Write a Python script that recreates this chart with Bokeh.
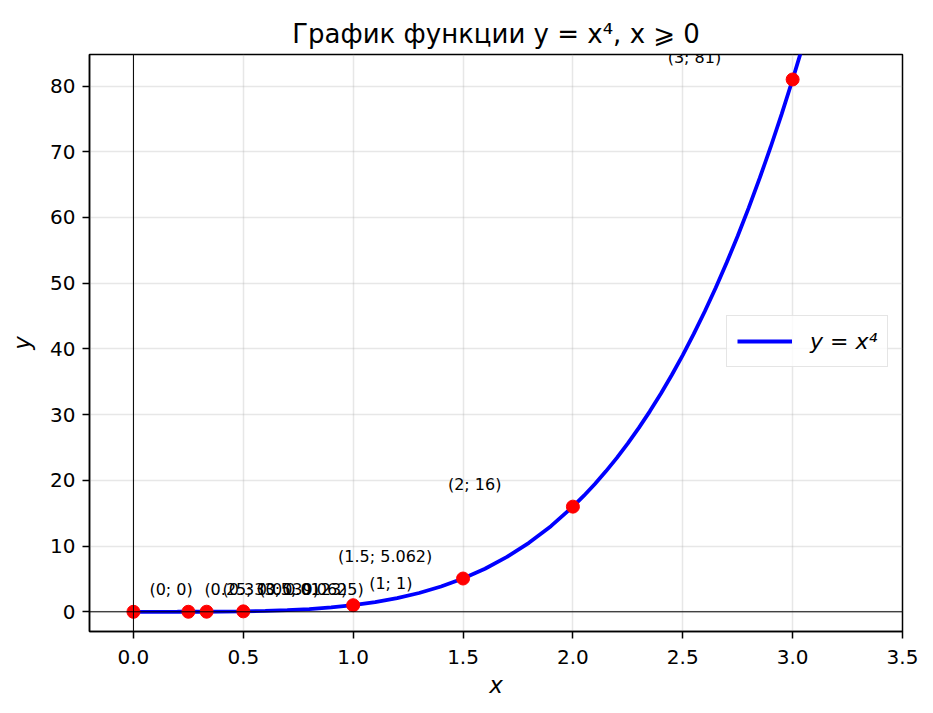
from bokeh.plotting import figure
from bokeh.models import (ColumnDataSource, FixedTicker, NumeralTickFormatter, Span,
                          Range1d, Legend, LegendItem)
from bokeh.core.properties import value
from bokeh.embed import file_html
from bokeh.resources import INLINE

# ---- data ----
curve_x = [0.0, 0.1, 0.2, 0.3, 0.4, 0.5, 0.6, 0.7, 0.8, 0.9, 1.0, 1.1, 1.2, 1.3, 1.4,
           1.5, 1.6, 1.7, 1.8, 1.9, 2.0, 2.05, 2.1, 2.15, 2.2, 2.25, 2.3, 2.35, 2.4,
           2.45, 2.5, 2.55, 2.6, 2.65, 2.7, 2.75, 2.8, 2.85, 2.9, 2.95, 3.0, 3.05, 3.1]
curve_y = [0.0, 0.0001, 0.0016, 0.0081, 0.0256, 0.0625, 0.1296, 0.2401, 0.4096, 0.6561,
           1.0, 1.4641, 2.0736, 2.8561, 3.8416, 5.0625, 6.5536, 8.3521, 10.4976, 13.0321,
           16.0, 17.6610, 19.4481, 21.3675, 23.4256, 25.6289, 27.9841, 30.4980, 33.1776,
           36.0300, 39.0625, 42.2825, 45.6976, 49.3155, 53.1441, 57.1914, 61.4656,
           65.9750, 70.7281, 75.7335, 81.0, 86.5365, 92.3521]
point_x = [0, 0.25, 0.333, 0.5, 1, 1.5, 2, 3]
point_y = [0, 0.0039, 0.0123, 0.0625, 1, 5.062, 16, 81]
point_labels = ["(0; 0)", "(0.25; 0.0039)", "(0.333; 0.0123)", "(0.5; 0.0625)",
                "(1; 1)", "(1.5; 5.062)", "(2; 16)", "(3; 81)"]
x_ticks = [0.0, 0.5, 1.0, 1.5, 2.0, 2.5, 3.0, 3.5]
y_ticks = [0, 10, 20, 30, 40, 50, 60, 70, 80]

FONT = "DejaVu Sans"

p = figure(width=925, height=705, output_backend="svg", toolbar_location=None,
           x_range=Range1d(-0.2, 3.5), y_range=Range1d(-3.0, 84.8),
           min_border_left=89, min_border_right=23, min_border_top=54,
           min_border_bottom=74)

p.title.text = "График функции y = x⁴, x ⩾ 0"
p.title.align = "center"
p.title.text_font = FONT
p.title.text_font_size = "26px"
p.title.text_font_style = "normal"
p.title.text_color = "black"
p.title.standoff = 11

# grid
for g in (p.xgrid, p.ygrid):
    g.grid_line_color = "#b0b0b0"
    g.grid_line_alpha = 0.3
    g.grid_line_width = 1.5

# axes
p.xaxis.ticker = FixedTicker(ticks=x_ticks)
p.yaxis.ticker = FixedTicker(ticks=y_ticks)
p.xaxis.formatter = NumeralTickFormatter(format="0.0")
p.yaxis.formatter = NumeralTickFormatter(format="0")
for ax in (p.xaxis[0], p.yaxis[0]):
    ax.major_label_text_font = FONT
    ax.major_label_text_font_size = "20px"
    ax.major_label_text_color = "black"
    ax.major_tick_in = 0
    ax.major_tick_out = 7
    ax.major_tick_line_color = "black"
    ax.major_tick_line_width = 1.5
    ax.minor_tick_line_color = None
    ax.axis_line_color = "black"
    ax.axis_line_width = 1.5
    ax.axis_label_text_font = FONT
    ax.axis_label_text_font_size = "23px"
    ax.axis_label_text_font_style = "italic"
    ax.axis_label_text_color = "black"
p.xaxis.major_label_standoff = 11
p.yaxis.major_label_standoff = 7
p.xaxis.axis_label = "x"
p.yaxis.axis_label = "y"
p.xaxis.axis_label_standoff = 5
p.yaxis.axis_label_standoff = 12

p.outline_line_color = "black"
p.outline_line_width = 1.5
p.outline_line_alpha = 1.0

# zero lines
p.add_layout(Span(location=0, dimension="width", line_color="black", line_width=1))
p.add_layout(Span(location=0, dimension="height", line_color="black", line_width=1))

# curve
curve = p.line(curve_x, curve_y, line_color="blue", line_width=3.8)

# points
src = ColumnDataSource(dict(x=point_x, y=point_y, label=point_labels,
                            dx=[16 if xv <= 1 else -125 for xv in point_x]))
p.scatter("x", "y", source=src, size=13, color="red")
p.text("x", "y", text="label", source=src, x_offset="dx", y_offset=-22,
       text_font=value(FONT), text_font_size="16px", text_align="left",
       text_baseline="middle", text_color="black")

legend = Legend(items=[LegendItem(label="y = x⁴", renderers=[curve])],
                location=(637, 264))
legend.label_text_font = FONT
legend.label_text_font_size = "22px"
legend.label_text_font_style = "italic"
legend.label_text_color = "black"
legend.label_height = 30
legend.glyph_height = 30
legend.glyph_width = 55
legend.label_standoff = 18
legend.padding = 10
legend.border_line_color = "#cccccc"
legend.border_line_width = 1.5
legend.background_fill_alpha = 0.8
p.add_layout(legend)

open("out.html", "w").write(file_html(p, INLINE))
